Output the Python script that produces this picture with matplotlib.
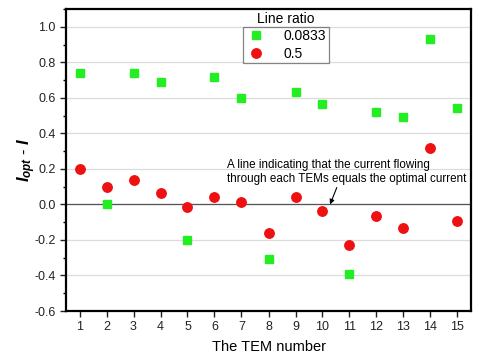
import numpy as np
import matplotlib
matplotlib.use('Agg')
import matplotlib.pyplot as plt
from matplotlib.ticker import MultipleLocator

plt.rcParams['font.family'] = ['Liberation Sans', 'DejaVu Sans']
plt.rcParams['mathtext.fontset'] = 'custom'
plt.rcParams['mathtext.it'] = 'Liberation Sans:italic:bold'
plt.rcParams['mathtext.rm'] = 'Liberation Sans:bold'

# === DATEN ===
tem_nr = list(range(1, 16))
ratio_labels = ['0.0833', '0.5']
werte_0083 = [0.74, 0.00, 0.74, 0.69, -0.20, 0.715, 0.60, -0.31, 0.63, 0.565,
              -0.39, 0.52, 0.49, 0.93, 0.545]
werte_05 = [0.20, 0.10, 0.136, 0.063, -0.013, 0.043, 0.015, -0.16, 0.04, -0.039,
            -0.227, -0.066, -0.133, 0.32, -0.094]
y_ticks = [-0.6, -0.4, -0.2, 0.0, 0.2, 0.4, 0.6, 0.8, 1.0]

fig = plt.figure(figsize=(4.78, 3.54), dpi=100)
ax = fig.add_axes([66 / 478, 1 - 311 / 354, (471 - 66) / 478, (311 - 9) / 354])

# Gitter und Nulllinie
for y in y_ticks:
    ax.axhline(y, color='#dcdcdc', lw=0.9, zorder=0)
ax.axhline(0, color='#555555', lw=0.9, zorder=1)

ax.plot(tem_nr, werte_0083, 's', color='#22ee22', ms=5.2, ls='none',
        label=ratio_labels[0], zorder=3)
ax.plot(tem_nr, werte_05, 'o', color='#ee1111', ms=6.8, ls='none',
        label=ratio_labels[1], zorder=3)

ax.set_xlim(0.5, 15.5)
ax.set_ylim(-0.6, 1.1)
ax.set_xticks(tem_nr)
ax.set_yticks(y_ticks)
ax.set_yticklabels([f'{v:.1f}' for v in y_ticks])
ax.yaxis.set_minor_locator(MultipleLocator(0.1))
ax.tick_params(axis='both', which='major', direction='out', length=4, width=1,
               labelsize=9, colors='#222222')
ax.tick_params(axis='y', which='minor', direction='out', length=2.5, width=1)
for s in ax.spines.values():
    s.set_linewidth(1.6)
    s.set_color('black')

ax.set_xlabel('The TEM number', fontsize=10.5, labelpad=5)
ax.set_ylabel(r'$I_{opt}$ - $I$', fontsize=12)
ax.yaxis.set_label_coords(-0.07, 0.5)

# Legende, Titel steht oberhalb des Rahmens
fig.text(286 / 478, 1 - 19 / 354, 'Line ratio', fontsize=10, ha='center', va='center')
leg = ax.legend(loc='upper left', bbox_to_anchor=((243 - 66) / 405, 1 - (27 - 9) / 302),
                fontsize=10, frameon=True, fancybox=False, edgecolor='#666666',
                borderpad=0.15, handletextpad=1.2, labelspacing=0.25,
                handlelength=1.6, borderaxespad=0)
leg.get_frame().set_linewidth(0.9)

# Hinweis auf die Nulllinie
ax.text(6.47, 0.255, 'A line indicating that the current flowing\n'
        'through each TEMs equals the optimal current',
        fontsize=8.4, ha='left', va='top', linespacing=1.25)
ax.annotate('', xy=(10.28, 0.0), xytext=(10.53, 0.095),
            arrowprops=dict(arrowstyle='-|>', color='black', lw=0.8,
                            shrinkA=0, shrinkB=0, mutation_scale=7))

fig.savefig('out.png', dpi=100)
